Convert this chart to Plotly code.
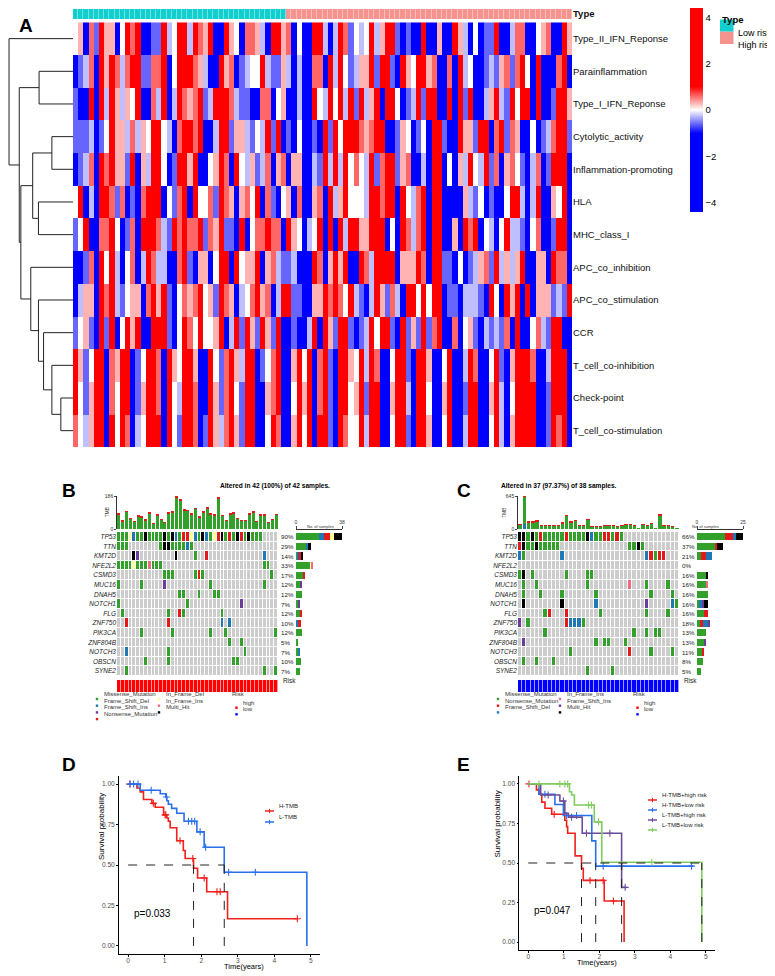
import plotly.graph_objects as go

REF_W, REF_H = 775, 976
PAGE = 8  # the page body keeps an 8px margin round the figure
W, H = REF_W - PAGE, REF_H - PAGE
FONT = "Liberation Sans, Arial, sans-serif"

# ---------------- A: immune function heatmap ----------------
pathways = ["Type_II_IFN_Reponse", "Parainflammation", "Type_I_IFN_Reponse",
            "Cytolytic_activity", "Inflammation-promoting", "HLA", "MHC_class_I",
            "APC_co_inhibition", "APC_co_stimulation", "CCR", "T_cell_co-inhibition",
            "Check-point", "T_cell_co-stimulation"]
n_low = 41
n_high = 55
# one letter per sample
# B b l = strong..faint blue, w = white, p r R = faint..strong red
shade_value = {"B": -3.0, "b": -0.6, "l": -0.25, "w": 0.0, "p": 0.3, "r": 0.6, "R": 3.0}
score_rows = [
    "wpBrbRpp BwRrRBBb bRlwRRlR rpRBBRpw BrrplBRR prBwBBRR lBlRrbwl wRlpRRbB bBBRBBpB BRplBwBb bRBBlrrB BwprBBRp",
    "BblrBRpR rlrRRbbr rRBwRRRr plBBRprB blwwRlbb plBlBBrr BRlRwblp pRbRRbBR pwRRprBB rBRlwBBb lbprbrRw BRBBBrRB",
    "bBBRBRlR plpwRBBr lRBlRrpr RblRRRrl bbBBrrBw pBBlBBRw lRwRlRbR lpRBRRwB blRbRRBB RBRbRBBl pRlbRwRR BRBBbRRp",
    "bbblBbwR pplrlpwR RwlBrRRr RBBlRRbp plbwlRbR BbBwBBbB RbRwRRRr prRRBBbp wBbwBRRb BBRppbRR BrRbrpBB wBblrRRb",
    "BblrBRrR ppbRBplR RwBbRRpR BBwpRrBR wlpblrBp rBppBBlb RlRlRwrw lRbrRRbp rBBlBRRB wBplRwlR brBprwbB lrBbRRRB",
    "wRBlBRRr brBbBrRR RBwbrRBR wwrbRrpB prwRBrbB wpBrBBpr BRlpRwww lRRrRRBR wlrRBRRB BBBplbwB bBBwRRlB lRBBpwRB",
    "bwRBBrrR wBbrBRRR rlbRrRrr RbrpRbbB RBwrrRrr BRpwBlwR BRBRlRRp pRRRBwBR rlrRBRRB BpBRrRBw lBwRllbB wrBBbRRB",
    "BBbrBRwR lBwrBlRr llBBrRbB ppBwRRBR wppRBprl bblBBBRr BpRpRBBR rlRRRRBp ppRrBRRb bBwBblpr bRlplpRB BppBRrrB",
    "BlppBRrR lbwppBrR pRbBwrpr RwpbRrpB lwrRprBl RRbbBBpp RrRrwRlb BlRpbrlB RRwRwRRB bbBlllbB RwBRpRBR BpppblbR",
    "bwpbBRbR BwRpRBBR RRbBwRrw RwwpRBlR bRpbRpbR BBbBBlRB RpbRRbBb lRwRRbBR bpbRbrRB BrBwpbBl blbrBRBB wrlbRRBB",
    "RpbwRRBr pRRBbwRR rBRpwRRp BBRwbrRp lRRBbwrR BBpRwRBr RbBRRpwR lRrBBwRR bBRRpBBw RBBlRrBB wRbBpRRR rBBlRRRB",
    "RwbpRRBr wRRBbpRR rBRwlRRr BBRpbrRw bRRBBprR BBwRpRBr RbBRRwpR bRRBBpRR lBRRwBBp RBBbRRBB pRlBwRRR RBBbRRRB",
    "rwlpRRBR wRrBlwRR RBRwbRRr BbRplrRp bRRBBwRr BBpRwRBR RbBRrwwR lRRBBwRR bBRRpBBw RBBlRRBB wRlBpRRR RBBbRrRB",
]
# row clustering as (height, left, right); leaves are row numbers
row_tree = (1.0, 0,
            (0.84,
             (0.53, 1, 2),
             (0.815,
              (0.63, (0.33, 3, 4), (0.54, 5, 6)),
              (0.66, 7, (0.54, 8, (0.46, 9, (0.33, 10, (0.19, 11, 12))))))))
type_colors = {"Low risk": "#12CFCF", "High risk": "#F5948E"}

# ---------------- B / C: oncoplots ----------------
genes = ["TP53", "TTN", "KMT2D", "NFE2L2", "CSMD3", "MUC16", "DNAH5", "NOTCH1", "FLG",
         "ZNF750", "PIK3CA", "ZNF804B", "NOTCH3", "OBSCN", "SYNE2"]
variant_names = {"g": "Missense_Mutation", "b": "Frame_Shift_Del", "p": "Frame_Shift_Ins",
                 "r": "Nonsense_Mutation", "y": "In_Frame_Del", "i": "In_Frame_Ins", "k": "Multi_Hit"}
variant_colors = {".": "#CCCCCC", "g": "#33A02C", "b": "#1F78B4", "p": "#6A3D9A",
                  "r": "#E31A1C", "y": "#FFFF99", "i": "#EE6A80", "k": "#000000"}
risk_colors = {"high": "#FF0000", "low": "#0000FF"}

b_grid = [
    "gggybg gkgggg kgkbgr rybgkb gyrkgr gkrgkg gg....",
    "ggg... .....g kkgggg bg.... ...... ...... ......",
    "....kp ...... ...k.. ..g..r ...... ...... ..b...",
    "ggggyg ggiggg ...... ...... ...... ...... ..gg..",
    "...... ...... ggg... ..grg. ...... ...... ....g.",
    "g..... g..... p..... ...... g..... ...... ..g...",
    "...... ...... ....gg ...g.. .gg... ...... ......",
    "g..... ...... ...... g..... ...... ..p... ......",
    ".g.... ...... .g..rg ...... ...g.. ...... ......",
    "..r... ...... .r.... ...... ...b.b ...... ......",
    "...... g..... ..g... ...... g...g. ...... .....g",
    "...... ...... ...... ...... .....g ..g... ......",
    "..b... ...... .g.... ...... ...... ...g.. ......",
    "...... .g.... .g.... ...... ...... gg.... ......",
    "..g... ...... ...... ...... ...... ...... ..g..g",
]
b_tmb = [85, 46, 101, 61, 42, 74, 70, 52, 92, 33, 79, 55, 39, 92, 98, 186, 171, 110, 107, 88, 116,
         70, 98, 121, 85, 79, 180, 77, 48, 85, 92, 61, 48, 48, 88, 98, 42, 79, 79, 39, 55, 83]
b_tmb_red = [4, 2, 3, 3, 2, 3, 3, 2, 4, 2, 3, 2, 2, 3, 4, 10, 8, 4, 4, 5, 3,
             3, 4, 5, 3, 3, 10, 3, 2, 4, 3, 2, 2, 2, 4, 3, 2, 3, 3, 2, 3, 4]
b_tmb_blue = [0, 0, 0, 0, 0, 2, 0, 0, 0, 0, 0, 0, 0, 0, 0, 0, 2, 0, 0, 0, 0,
              0, 0, 0, 2, 0, 0, 0, 0, 0, 0, 0, 0, 0, 0, 0, 0, 0, 0, 0, 0, 0]
b_order = ["g", "b", "p", "r", "y", "i", "k"]
b_risk = "high"
b_title = "Altered in 42 (100%) of 42 samples."

c_grid = [
    "kkgkgr gggggr ggggkb ggrrgr g..... ...... ..",
    "rkggkg gggg.. ...... ...... ..ggkg ...... ..",
    "bg.... ....b. ...... ...... ...... brgrr. ..",
    "...... ...... ...... ...... ...... ...... ..",
    "gk.g.. .....g ....gg ...... ...... ...... ..",
    ".g..g. ...... ....g. ...... ..i... g....g ..",
    ".g...g ....g. ...... g..... ...... .g.... g.",
    ".k.... ....k. ...... b..... ...... p..... bg",
    "...... gr...r ...... .g.... ...... g....g ..",
    "p.g... .....r bbbg.. ...... ...... ...... ..",
    "...... g..... ...... ...... ...g.. g.gg.. ..",
    ".p.... ...... ...... g.gg.. .g.... ...... ..",
    "...... ...... g..... ...... ..r... .g.... g.",
    ".g..g. ..g... ...... ...... ...... ...... ..",
    "...... ...... ....g. ....g. ...... ...... ..",
]
c_tmb = [95, 645, 139, 139, 158, 63, 76, 76, 63, 76, 120, 265, 139, 171, 76, 76, 190, 57, 57,
         57, 76, 76, 63, 57, 76, 88, 88, 76, 6, 95, 76, 101, 6, 284, 76, 63, 57, 6]
c_tmb_red = [5, 15, 4, 4, 5, 2, 2, 2, 2, 2, 5, 10, 5, 5, 2, 2, 6, 2, 2,
             2, 2, 2, 2, 2, 2, 3, 3, 2, 0, 3, 2, 3, 0, 12, 2, 2, 2, 0]
c_tmb_blue = [0, 100, 0, 0, 0, 0, 0, 0, 0, 0, 0, 0, 0, 0, 0, 0, 0, 0, 0,
              0, 0, 0, 0, 0, 0, 0, 0, 0, 0, 0, 0, 0, 0, 0, 0, 0, 0, 0]
c_order = ["g", "r", "b", "i", "p", "k"]
c_risk = "low"
c_title = "Altered in 37 (97.37%) of 38 samples."

# ---------------- D / E: survival curves ----------------
d_curves = [
    ("H-TMB", "#F2201C",
     [0, 0.24, 0.33, 0.42, 0.65, 0.74, 0.97, 1.06, 1.10, 1.15, 1.33, 1.51, 1.56, 1.79, 1.90, 2.15, 2.72, 4.65],
     [1.0, 0.976, 0.952, 0.905, 0.881, 0.857, 0.81, 0.79, 0.77, 0.73, 0.65, 0.59, 0.54, 0.48, 0.42, 0.335, 0.168, 0.168],
     [0.05, 0.69, 1.01, 1.03, 1.42, 1.77, 2.08, 2.43, 2.52, 4.63]),
    ("L-TMB", "#2A70EC",
     [0, 0.33, 0.88, 1.03, 1.06, 1.10, 1.19, 1.33, 1.53, 1.88, 2.08, 2.63, 4.89],
     [1.0, 0.962, 0.94, 0.92, 0.897, 0.875, 0.85, 0.82, 0.77, 0.705, 0.61, 0.455, 0.0],
     [0.05, 0.15, 0.27, 0.63, 1.05, 1.65, 1.74, 1.82, 1.97, 2.12, 2.75, 3.48]),
]
d_pval = "p=0.033"
e_curves = [
    ("H-TMB+high risk", "#F2201C",
     [0, 0.23, 0.30, 0.38, 0.47, 0.66, 1.03, 1.08, 1.11, 1.32, 1.50, 1.55, 2.14, 2.70],
     [1.0, 0.962, 0.935, 0.885, 0.846, 0.808, 0.77, 0.73, 0.688, 0.545, 0.466, 0.39, 0.26, 0.0],
     [0.02, 0.73, 1.74, 2.11, 2.40]),
    ("H-TMB+low risk", "#2A70EC",
     [0, 0.30, 0.75, 0.99, 1.79, 1.90, 4.65],
     [1.0, 0.935, 0.87, 0.80, 0.64, 0.48, 0.48],
     [0.47, 1.08, 1.36, 2.11, 2.63, 4.60]),
    ("L-TMB+high risk", "#6B4E9B",
     [0, 0.35, 0.89, 1.03, 1.13, 1.52, 2.63, 2.77],
     [1.0, 0.93, 0.892, 0.814, 0.79, 0.688, 0.346, 0.346],
     [0.56, 0.99, 1.22, 1.64, 2.30, 2.73]),
    ("L-TMB+low risk", "#80CC5E",
     [0, 1.16, 1.22, 1.30, 1.86, 2.07, 4.89],
     [1.0, 0.95, 0.93, 0.867, 0.76, 0.505, 0.0],
     [0.30, 0.89, 1.03, 1.11, 1.70, 1.78, 1.98, 3.48]),
]
e_pval = "p=0.047"

fig = go.Figure()
annotations = []
shapes = []
axes = {}


# positions below are given in pixels of the reference picture
def fx(x):
    return (x - PAGE) / W


def fy(y):
    return 1 - (y - PAGE) / H


def xd(a, b):
    return [fx(a), fx(b)]


def yd(top, bottom):
    return [fy(bottom), fy(top)]


def note(x, y, s, size, color="black", **kw):
    annotations.append(dict(x=fx(x), y=fy(y), xref="paper", yref="paper", text=s,
                            showarrow=False, font=dict(size=size, color=color, family=FONT), **kw))


def box(x0, y0, x1, y1, color):
    shapes.append(dict(type="rect", xref="paper", yref="paper", x0=fx(x0), x1=fx(x1),
                       y0=fy(y1), y1=fy(y0), fillcolor=color, line_width=0))


def seg(x0, y0, x1, y1, color, width=1.0):
    shapes.append(dict(type="line", xref="paper", yref="paper", x0=fx(x0), x1=fx(x1),
                       y0=fy(y0), y1=fy(y1), line=dict(color=color, width=width)))


def discrete(colors):
    out = []
    for i, c in enumerate(colors):
        out += [[i / len(colors), c], [(i + 1) / len(colors), c]]
    return out


# ---- A ----
n_samples = n_low + n_high
z = [[shade_value[c] for c in row.replace(" ", "")] for row in score_rows]
fig.add_trace(go.Heatmap(
    z=z, x=list(range(n_samples)), y=list(range(len(pathways))), zmin=-4.4, zmax=4.4,
    colorscale=[[0, "#0000FF"], [0.386, "#0000FF"], [0.5, "#FFFFFF"], [0.614, "#FF0000"], [1, "#FF0000"]],
    colorbar=dict(x=fx(690), xanchor="left", y=fy(8), yanchor="top", len=204 / H, lenmode="fraction",
                  thickness=13, outlinewidth=0, ticks="", xpad=0, ypad=0,
                  tickvals=[-4, -2, 0, 2, 4], tickfont=dict(size=9.5, family=FONT)),
    hoverinfo="skip", xaxis="x", yaxis="y"))

risk_group = ["Low risk"] * n_low + ["High risk"] * n_high
c1, c2 = type_colors["Low risk"], type_colors["High risk"]
fig.add_trace(go.Heatmap(
    z=[[0 if g == "Low risk" else 1 for g in risk_group]], x=list(range(n_samples)), y=[0],
    zmin=0, zmax=1, colorscale=[[0, c1], [0.5, c1], [0.5, c2], [1, c2]], showscale=False,
    xgap=0.4, hoverinfo="skip", xaxis="x2", yaxis="y2"))

den_x, den_y = [], []


def walk(node):
    if isinstance(node, int):
        return node, 0.0
    h, left, right = node
    yl, hl = walk(left)
    yr, hr = walk(right)
    den_x.extend([hl, h, h, hr, None])
    den_y.extend([yl, yl, yr, yr, None])
    return (yl + yr) / 2, h


walk(row_tree)
fig.add_trace(go.Scatter(x=den_x, y=den_y, mode="lines", line=dict(color="#222222", width=1),
                         hoverinfo="skip", xaxis="x3", yaxis="y3"))

heat_top, heat_bottom = 22.3, 447
axes["xaxis"] = dict(domain=xd(73, 572), range=[-0.5, n_samples - 0.5], visible=False, anchor="y")
axes["yaxis"] = dict(domain=yd(heat_top, heat_bottom), range=[len(pathways) - 0.5, -0.5], side="right",
                     tickvals=list(range(len(pathways))), ticktext=pathways, ticks="", showgrid=False,
                     zeroline=False, showline=False, tickfont=dict(size=9.5, color="#111111"), anchor="x")
axes["xaxis2"] = dict(domain=xd(73, 572), range=[-0.5, n_samples - 0.5], visible=False, anchor="y2")
axes["yaxis2"] = dict(domain=yd(9, 19), range=[-0.5, 0.5], side="right", tickvals=[0],
                      ticktext=["<b>Type</b>"], ticks="", showgrid=False, zeroline=False,
                      tickfont=dict(size=9.5, color="#111111"), anchor="x2")
axes["xaxis3"] = dict(domain=xd(PAGE, 73), range=[1.016, 0], visible=False, anchor="y3")
axes["yaxis3"] = dict(domain=yd(heat_top, heat_bottom), range=[len(pathways) - 0.5, -0.5],
                      visible=False, anchor="x3")

note(17, 13, "<b>A</b>", 19)
note(720, 12, "<b>Type</b>", 9.5, xanchor="left")
box(720, 19.5, 733.5, 31.7, c1)
box(720, 31.7, 733.5, 44, c2)
note(736, 25.5, "Low risk", 9, xanchor="left")
note(736, 38, "High risk", 9, xanchor="left")

# ---- B / C ----
codes = [".", "g", "b", "p", "r", "y", "i", "k"]


def oncoplot(a, grid, tmb, tmb_red, tmb_blue, order, risk, title, x0, x1, title_x, label, label_x):
    rows = [g.replace(" ", "") for g in grid]
    n = len(rows[0])
    cols = list(range(n))
    t, g_, r_, b_ = [str(i) for i in range(a, a + 4)]
    green = [tot - rd - bl for tot, rd, bl in zip(tmb, tmb_red, tmb_blue)]
    for vals, code in [(tmb_blue, "b"), (green, "g"), (tmb_red, "r")]:
        fig.add_trace(go.Bar(x=cols, y=vals, marker_color=variant_colors[code], marker_line_width=0,
                             width=0.8, hoverinfo="skip", xaxis="x" + t, yaxis="y" + t))
    fig.add_trace(go.Heatmap(
        z=[[codes.index(c) for c in row] for row in rows], x=cols, y=list(range(len(genes))),
        zmin=-0.5, zmax=len(codes) - 0.5, colorscale=discrete([variant_colors[c] for c in codes]),
        showscale=False, xgap=1, ygap=1, hoverinfo="skip", xaxis="x" + g_, yaxis="y" + g_))
    rc = risk_colors[risk]
    fig.add_trace(go.Heatmap(z=[[0 for _ in cols]], x=cols, y=[0], zmin=0, zmax=1,
                             colorscale=[[0, rc], [1, rc]], showscale=False, xgap=0.6,
                             hoverinfo="skip", xaxis="x" + r_, yaxis="y" + r_))
    for code in order:
        fig.add_trace(go.Bar(x=[row.count(code) for row in rows], y=list(range(len(genes))),
                             orientation="h", marker_color=variant_colors[code], marker_line_width=0,
                             width=0.75, hoverinfo="skip", xaxis="x" + b_, yaxis="y" + b_))
    top_count = max(sum(c != "." for c in row) for row in rows)
    bx0, bx1 = x1 + 18, x1 + 64
    axes["xaxis" + t] = dict(domain=xd(x0, x1), range=[-0.5, n - 0.5], visible=False, anchor="y" + t)
    axes["yaxis" + t] = dict(domain=yd(496, 529), range=[0, max(tmb)], tickvals=[0, max(tmb)],
                             showline=True, linewidth=0.6, linecolor="#333", ticks="outside", ticklen=2,
                             tickwidth=0.6, tickfont=dict(size=5, color="#333"), showgrid=False,
                             zeroline=False, anchor="x" + t)
    axes["xaxis" + g_] = dict(domain=xd(x0, x1), range=[-0.5, n - 0.5], visible=False, anchor="y" + g_)
    axes["yaxis" + g_] = dict(domain=yd(532, 676), range=[len(genes) - 0.5, -0.5],
                              tickvals=list(range(len(genes))), ticktext=["<i>%s</i>" % g for g in genes],
                              ticks="", showgrid=False, zeroline=False, tickfont=dict(size=6.5, color="#222"),
                              anchor="x" + g_)
    axes["xaxis" + r_] = dict(domain=xd(x0, x1), range=[-0.5, n - 0.5], visible=False, anchor="y" + r_)
    axes["yaxis" + r_] = dict(domain=yd(680, 692), range=[-0.5, 0.5], visible=False, anchor="x" + r_)
    axes["xaxis" + b_] = dict(domain=xd(bx0, bx1), range=[0, top_count], side="top", anchor="free",
                              position=fy(529), tickvals=[0, top_count], showline=True, linewidth=0.6,
                              linecolor="#333", ticks="outside", ticklen=3, tickwidth=0.6,
                              tickfont=dict(size=5, color="#333"), showgrid=False, zeroline=False)
    axes["yaxis" + b_] = dict(domain=yd(532, 676), range=[len(genes) - 0.5, -0.5], visible=False,
                              anchor="x" + b_)
    for i, row in enumerate(rows):
        pct = round(100 * sum(c != "." for c in row) / n)
        annotations.append(dict(x=fx(x1 + 0.5), y=i, xref="paper", yref="y" + g_, text="%d%%" % pct,
                                showarrow=False, xanchor="left",
                                font=dict(size=6.2, color="#222", family=FONT)))
    note((bx0 + bx1) / 2 + 1, 526.8, "No. of samples", 4, "#333")
    note(x0 - 14, 512.5, "TMB", 4.6, "#333", textangle=-90)
    note(title_x, 486, "<b>%s</b>" % title, 6.6)
    note(x1 + 3, 686, "Risk", 6.4, "#222", xanchor="left")
    note(label_x, 490, "<b>%s</b>" % label, 19)
    half = (len(order) + 1) // 2
    for k, code in enumerate(order):
        lx = x0 - 20 if k < half else x0 + 42
        ly = 699 + 6.7 * (k if k < half else k - half)
        box(lx - 1.2, ly - 1.2, lx + 1.2, ly + 1.2, variant_colors[code])
        note(lx + 5, ly, variant_names[code], 6, "#333", xanchor="left")
    note(x0 + 113, 699, "Risk", 6, "#333", xanchor="left")
    for k, rk in enumerate(["high", "low"]):
        ly = 707.7 + 6.6 * k
        box(x0 + 118.3, ly - 1.2, x0 + 120.7, ly + 1.2, risk_colors[rk])
        note(x0 + 124, ly, rk, 6, "#333", xanchor="left")


oncoplot(4, b_grid, b_tmb, b_tmb_red, b_tmb_blue, b_order, b_risk, b_title, 117, 278, 218, "B", 60)
oncoplot(8, c_grid, c_tmb, c_tmb_red, c_tmb_blue, c_order, c_risk, c_title, 518, 679, 619, "C", 464)


# ---- D / E ----
def step_at(ts, ss, t):
    v = ss[0]
    for ti, si in zip(ts, ss):
        if ti <= t:
            v = si
    return v


def km(a, curves, pval, x0, x1, y0, y1, label, label_x, lx, ly0, ly_step, ytitle_x, xtitle_y):
    xa, ya = "x" + str(a), "y" + str(a)
    medians = []
    for name, col, ts, ss, cens in curves:
        fig.add_trace(go.Scatter(x=ts, y=ss, mode="lines", line=dict(color=col, width=1.6, shape="hv"),
                                 hoverinfo="skip", xaxis=xa, yaxis=ya))
        fig.add_trace(go.Scatter(x=cens, y=[step_at(ts, ss, c) for c in cens], mode="markers",
                                 marker=dict(symbol="cross-thin", size=5, line=dict(color=col, width=1.1)),
                                 hoverinfo="skip", xaxis=xa, yaxis=ya))
        medians.append(next(t for t, s in zip(ts, ss) if s <= 0.5))
    mx, my = [0, max(medians), None], [0.5, 0.5, None]
    for m in medians:
        mx += [m, m, None]
        my += [0, 0.5, None]
    fig.add_trace(go.Scatter(x=mx, y=my, mode="lines", line=dict(color="#222", width=1, dash="dash"),
                             hoverinfo="skip", xaxis=xa, yaxis=ya))
    base = dict(showline=True, linecolor="black", linewidth=0.8, ticks="outside", ticklen=2,
                tickcolor="black", tickwidth=0.8, tickfont=dict(size=6.6, color="#4D4D4D"),
                showgrid=False, zeroline=False)
    axes["xaxis" + str(a)] = dict(base, domain=xd(x0, x1), range=[-0.25, 5.25], tickvals=[0, 1, 2, 3, 4, 5],
                                  ticklabelstandoff=-2, anchor=ya)
    axes["yaxis" + str(a)] = dict(base, domain=yd(y0, y1), range=[-0.05, 1.05],
                                  tickvals=[0, 0.25, 0.5, 0.75, 1], tickformat=".2f", anchor=xa)
    annotations.append(dict(x=0.1, y=0.2, xref=xa, yref=ya, text=pval, showarrow=False, xanchor="left",
                            font=dict(size=10, color="black", family=FONT)))
    note(ytitle_x, (y0 + y1) / 2 - 3, "Survival probability", 8, textangle=-90)
    note((x0 + x1) / 2 + 2, xtitle_y, "Time(years)", 7.5)
    note(label_x, 777, "<b>%s</b>" % label, 19)
    for i, (name, col, ts, ss, cens) in enumerate(curves):
        y = ly0 + ly_step * i
        seg(lx, y, lx + 9, y, col, 1.5)
        seg(lx + 4.5, y - 2.2, lx + 4.5, y + 2.2, col, 1)
        note(lx + 12, y, name, 6, "#222", xanchor="left")


km(12, d_curves, d_pval, 119, 320, 776, 954, "D", 60, 265, 811, 11, 95, 972.5)
km(13, e_curves, e_pval, 519.4, 714.6, 776, 950, "E", 463, 648, 800, 10, 497, 968.5)

# keep every axis where it is put; the default template lets tick labels push the margins
for ax in axes.values():
    ax["automargin"] = False

fig.update_layout(
    width=W, height=H, margin=dict(l=0, r=0, t=0, b=0, autoexpand=False),
    paper_bgcolor="white", plot_bgcolor="white",
    font=dict(family=FONT, color="black"),
    showlegend=False, barmode="stack",
    annotations=annotations, shapes=shapes,
    **axes,
)

fig.write_html("out.html")
